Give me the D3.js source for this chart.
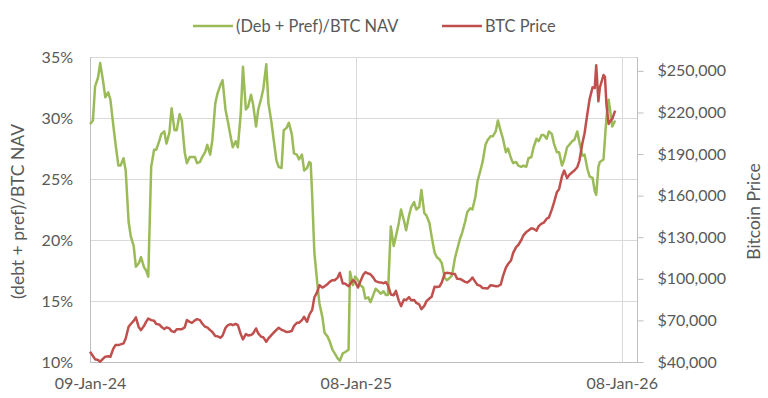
<!DOCTYPE html>
<html>
<head>
<meta charset="utf-8">
<title>(Deb + Pref)/BTC NAV vs BTC Price</title>
<script src="https://d3js.org/d3.v7.min.js"></script>
<style>
  body { margin: 0; background: #fff; }
  text { font-family: Lato, "Open Sans", sans-serif; fill: #595959; }
</style>
</head>
<body>
<div id="chart"></div>
<script>
// readings twice a week (plus a few extra days where the lines jump)
var dates = [
  "2024-01-09","2024-01-13","2024-01-16","2024-01-20","2024-01-23","2024-01-27","2024-01-30","2024-02-03",
  "2024-02-06","2024-02-10","2024-02-13","2024-02-17","2024-02-20","2024-02-24","2024-02-27","2024-03-02",
  "2024-03-05","2024-03-09","2024-03-12","2024-03-16","2024-03-19","2024-03-23","2024-03-26","2024-03-29",
  "2024-04-02","2024-04-06","2024-04-09","2024-04-13","2024-04-16","2024-04-20","2024-04-23","2024-04-27",
  "2024-04-30","2024-05-04","2024-05-07","2024-05-11","2024-05-14","2024-05-18","2024-05-21","2024-05-25",
  "2024-05-28","2024-06-01","2024-06-04","2024-06-08","2024-06-11","2024-06-15","2024-06-18","2024-06-22",
  "2024-06-25","2024-06-29","2024-07-02","2024-07-06","2024-07-09","2024-07-13","2024-07-16","2024-07-20",
  "2024-07-23","2024-07-27","2024-07-30","2024-08-03","2024-08-06","2024-08-10","2024-08-13","2024-08-17",
  "2024-08-20","2024-08-24","2024-08-27","2024-08-31","2024-09-03","2024-09-07","2024-09-10","2024-09-14",
  "2024-09-17","2024-09-21","2024-09-24","2024-09-28","2024-10-01","2024-10-05","2024-10-08","2024-10-12",
  "2024-10-15","2024-10-19","2024-10-22","2024-10-26","2024-10-29","2024-11-02","2024-11-05","2024-11-07",
  "2024-11-09","2024-11-12","2024-11-16","2024-11-19","2024-11-23","2024-11-26","2024-11-30","2024-12-03",
  "2024-12-07","2024-12-10","2024-12-14","2024-12-17","2024-12-21","2024-12-24","2024-12-29","2024-12-31",
  "2025-01-04","2025-01-07","2025-01-11","2025-01-14","2025-01-18","2025-01-21","2025-01-25","2025-01-28",
  "2025-02-01","2025-02-04","2025-02-08","2025-02-11","2025-02-15","2025-02-18","2025-02-21","2025-02-25",
  "2025-03-01","2025-03-04","2025-03-08","2025-03-11","2025-03-15","2025-03-18","2025-03-22","2025-03-25",
  "2025-03-29","2025-04-01","2025-04-05","2025-04-08","2025-04-12","2025-04-15","2025-04-19","2025-04-22",
  "2025-04-26","2025-04-29","2025-05-03","2025-05-06","2025-05-10","2025-05-13","2025-05-17","2025-05-20",
  "2025-05-24","2025-05-27","2025-05-31","2025-06-03","2025-06-07","2025-06-10","2025-06-14","2025-06-17",
  "2025-06-21","2025-06-24","2025-06-28","2025-07-01","2025-07-05","2025-07-08","2025-07-12","2025-07-15",
  "2025-07-19","2025-07-22","2025-07-26","2025-07-29","2025-08-02","2025-08-05","2025-08-09","2025-08-12",
  "2025-08-16","2025-08-19","2025-08-23","2025-08-26","2025-08-30","2025-09-02","2025-09-06","2025-09-09",
  "2025-09-13","2025-09-16","2025-09-20","2025-09-23","2025-09-27","2025-09-30","2025-10-04","2025-10-07",
  "2025-10-11","2025-10-14","2025-10-18","2025-10-21","2025-10-25","2025-10-28","2025-11-01","2025-11-04",
  "2025-11-08","2025-11-11","2025-11-15","2025-11-18","2025-11-22","2025-11-25","2025-11-29","2025-12-02",
  "2025-12-04","2025-12-07","2025-12-09","2025-12-14","2025-12-16","2025-12-18","2025-12-21","2025-12-23",
  "2025-12-26","2025-12-30"
];

// (debt + pref)/BTC NAV, in percent
var navRatio = [
  29.5, 29.8, 32.6, 33.3, 34.5, 33.0, 31.7, 32.1,
  31.5, 29.4, 27.9, 26.1, 26.1, 26.7, 25.7, 21.5,
  20.3, 19.5, 17.8, 18.1, 18.6, 17.8, 17.5, 17.0,
  26.0, 27.4, 27.4, 28.1, 28.7, 28.9, 27.9, 28.8,
  30.8, 29.0, 29.0, 30.3, 29.8, 27.2, 26.3, 26.8,
  26.8, 26.8, 26.3, 26.4, 26.8, 27.2, 27.8, 27.0,
  28.2, 31.2, 32.0, 32.7, 33.1, 30.7, 29.8, 28.5,
  27.6, 28.1, 27.6, 30.4, 34.2, 30.7, 30.9, 31.9,
  31.1, 29.3, 30.7, 31.6, 32.4, 34.4, 31.2, 29.7,
  28.3, 26.5, 26.0, 25.9, 29.0, 29.2, 29.6, 28.7,
  27.1, 27.0, 26.6, 27.0, 25.7, 25.9, 26.4, 26.3,
  23.7, 19.0, 16.5, 14.8, 13.7, 12.4, 12.1, 11.7,
  11.0, 10.7, 10.3, 10.1, 10.7, 10.8, 11.0, 17.4,
  16.3, 17.0, 16.7, 16.3, 16.1, 15.2, 15.3, 14.9,
  15.5, 16.0, 15.8, 15.6, 15.8, 15.5, 15.5, 21.1,
  19.5, 20.3, 21.4, 22.5, 21.6, 20.8, 22.0, 22.7,
  23.1, 22.5, 22.7, 24.1, 22.2, 22.0, 21.4, 20.3,
  19.0, 18.6, 18.4, 18.1, 16.9, 16.7, 16.9, 17.1,
  18.5, 19.2, 20.1, 20.6, 21.5, 22.3, 22.6, 22.5,
  23.5, 24.8, 25.7, 26.4, 27.8, 28.2, 28.5, 28.5,
  28.9, 29.8, 28.9, 28.3, 27.2, 27.5, 26.7, 26.3,
  26.4, 26.1, 26.0, 26.1, 26.0, 26.7, 26.8, 27.6,
  28.3, 28.1, 28.6, 28.6, 28.3, 28.9, 28.7, 27.9,
  27.2, 27.2, 26.1, 26.6, 27.6, 27.8, 28.1, 28.2,
  28.9, 28.0, 26.9, 27.0, 25.8, 25.2, 25.1, 24.0,
  23.7, 26.0, 26.4, 26.6, 28.3, 30.0, 31.5, 30.7,
  29.3, 29.8
];

// BTC price, USD
var btcPrice = [
  47400, 44300, 42000, 41400, 40200, 42400, 43800, 44100,
  43800, 49600, 52200, 52200, 52700, 53400, 57000, 65400,
  67400, 69700, 72200, 65000, 63000, 65900, 68900, 71400,
  70200, 69700, 67400, 67100, 65400, 63700, 65000, 64200,
  62300, 61600, 63600, 63700, 63600, 65000, 70200, 69000,
  68200, 70000, 70900, 70200, 67800, 65400, 65000, 63000,
  61600, 58700, 58500, 57500, 59000, 64500, 66400, 67300,
  66600, 67500, 66600, 60100, 56300, 60100, 59200, 59400,
  60600, 64200, 60600, 58200, 57800, 54600, 57000, 59400,
  61100, 63200, 64700, 63200, 62600, 61600, 61800, 62300,
  65900, 68300, 68300, 70200, 72600, 69000, 73900, 75800,
  77400, 86500, 90600, 95400, 93700, 94600, 96100, 97800,
  99000, 99000, 100900, 104300, 96600, 96600, 94700, 96100,
  99000, 97800, 93700, 97800, 102800, 104800, 103800, 103300,
  100900, 98300, 97600, 97400, 96800, 97600, 95400, 88700,
  88200, 91300, 84100, 80300, 85100, 84600, 86800, 84600,
  84800, 82600, 81500, 78100, 80500, 83900, 85800, 87000,
  94200, 94100, 94500, 97400, 104000, 104300, 104000, 103700,
  103500, 100000, 99900, 99000, 97800, 97400, 99000, 100900,
  97800, 95600, 94900, 93300, 93200, 93000, 95400, 95200,
  94700, 94600, 95900, 101900, 108100, 110700, 113200, 118700,
  122900, 124400, 127800, 131300, 133700, 134800, 136400, 136100,
  134700, 138000, 139800, 140500, 143400, 144100, 149900, 154900,
  162500, 164700, 174000, 178100, 172600, 175000, 176900, 178100,
  180500, 185300, 197800, 205000, 219600, 229800, 238100, 237600,
  254000, 228000, 238000, 247000, 245700, 226100, 211700, 213600,
  215300, 221300
];

var xDomain = ["2024-01-09", "2026-01-29"];
var xTicks = ["2024-01-09", "2025-01-08", "2026-01-08"];
var navTicks = [10, 15, 20, 25, 30, 35];
var btcDomain = [40000, 260000];
var btcTicks = [40000, 70000, 100000, 130000, 160000, 190000, 220000, 250000];
var seriesNames = ["(Deb + Pref)/BTC NAV", "BTC Price"];
var axisTitles = ["(debt + pref)/BTC NAV", "Bitcoin Price"];

var GREEN = "#9bbb59", RED = "#c0504d";

var W = 768, H = 398;
var margin = {top: 57, right: 131, bottom: 36, left: 90};
var width = W - margin.left - margin.right,
    height = H - margin.top - margin.bottom;

var parseDate = d3.utcParse("%Y-%m-%d");
var data = dates.map(function(d, i) {
  return {date: parseDate(d), nav: navRatio[i], btc: btcPrice[i]};
});

var svg = d3.select("#chart").append("svg")
    .attr("width", W)
    .attr("height", H);

var g = svg.append("g")
    .attr("transform", "translate(" + margin.left + "," + margin.top + ")");

var x = d3.scaleUtc()
    .domain(xDomain.map(parseDate))
    .range([0, width]);

var y = d3.scaleLinear()
    .domain(d3.extent(navTicks))
    .range([height, 0]);

var y2 = d3.scaleLinear()
    .domain(btcDomain)
    .range([height, 0]);

// horizontal gridlines
g.append("g").selectAll("line")
    .data(navTicks.slice(1))
  .enter().append("line")
    .attr("x1", 0).attr("x2", width)
    .attr("y1", function(d) { return Math.round(y(d)) + 0.5; })
    .attr("y2", function(d) { return Math.round(y(d)) + 0.5; })
    .attr("stroke", "#d9d9d9");

// vertical gridlines
g.append("g").selectAll("line")
    .data(xTicks.slice(1))
  .enter().append("line")
    .attr("x1", function(d) { return Math.round(x(parseDate(d))) + 0.5; })
    .attr("x2", function(d) { return Math.round(x(parseDate(d))) + 0.5; })
    .attr("y1", 0).attr("y2", height)
    .attr("stroke", "#d9d9d9");

// axis lines
g.append("line").attr("x1", 0.5).attr("x2", 0.5).attr("y1", 0).attr("y2", height).attr("stroke", "#bfbfbf");
g.append("line").attr("x1", width + 0.5).attr("x2", width + 0.5).attr("y1", 0).attr("y2", height).attr("stroke", "#bfbfbf");
g.append("line").attr("x1", 0).attr("x2", width + 1).attr("y1", height + 0.5).attr("y2", height + 0.5).attr("stroke", "#bfbfbf");

// left axis
var yAxis = g.append("g")
    .call(d3.axisLeft(y).tickValues(navTicks).tickSize(0).tickPadding(17)
      .tickFormat(function(d) { return d + "%"; }));
yAxis.select(".domain").remove();

// right axis
var y2Axis = g.append("g")
    .attr("transform", "translate(" + (width + 0.5) + ",0)")
    .call(d3.axisRight(y2).tickValues(btcTicks).tickSize(6).tickPadding(14)
      .tickFormat(d3.format("$,")));
y2Axis.select(".domain").remove();
y2Axis.selectAll(".tick line").attr("stroke", "#bfbfbf");

// bottom axis
var xAxis = g.append("g")
    .attr("transform", "translate(0," + height + ")")
    .call(d3.axisBottom(x).tickValues(xTicks.map(parseDate)).tickSize(0).tickPadding(16)
      .tickFormat(d3.utcFormat("%d-%b-%y")));
xAxis.select(".domain").remove();

svg.selectAll(".tick text")
    .attr("fill", "#595959")
    .style("font-family", "Lato, 'Open Sans', sans-serif")
    .style("font-size", "16px");

// lines
g.append("path")
    .datum(data)
    .attr("fill", "none")
    .attr("stroke", GREEN)
    .attr("stroke-width", 2.5)
    .attr("stroke-linejoin", "round")
    .attr("d", d3.line()
      .x(function(d) { return x(d.date); })
      .y(function(d) { return y(d.nav); }));

g.append("path")
    .datum(data)
    .attr("fill", "none")
    .attr("stroke", RED)
    .attr("stroke-width", 2.5)
    .attr("stroke-linejoin", "round")
    .attr("d", d3.line()
      .x(function(d) { return x(d.date); })
      .y(function(d) { return y2(d.btc); }));

// axis titles
svg.append("text")
    .attr("transform", "translate(24," + (margin.top + height / 2 + 2) + ") rotate(-90)")
    .attr("text-anchor", "middle")
    .style("font-size", "17.5px")
    .text(axisTitles[0]);

svg.append("text")
    .attr("transform", "translate(760," + (margin.top + height / 2 + 2) + ") rotate(-90)")
    .attr("text-anchor", "middle")
    .style("font-size", "17.5px")
    .text(axisTitles[1]);

// legend
var legendX = [193, 442];
var legend = svg.append("g").selectAll("g")
    .data(seriesNames)
  .enter().append("g")
    .attr("transform", function(d, i) { return "translate(" + legendX[i] + ",26)"; });

legend.append("line")
    .attr("x1", 0).attr("x2", 40)
    .attr("stroke", function(d, i) { return i === 0 ? GREEN : RED; })
    .attr("stroke-width", 2.5);

legend.append("text")
    .attr("x", 43)
    .attr("dy", "0.35em")
    .style("font-size", "16.4px")
    .text(function(d) { return d; });
</script>
</body>
</html>
